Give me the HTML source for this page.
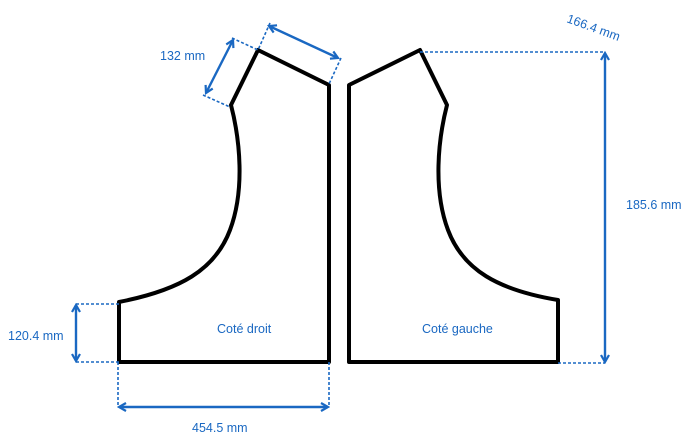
<!DOCTYPE html>
<html><head><style>body{margin:0;background:#fff}svg{display:block}</style></head><body>
<svg width="700" height="444" viewBox="0 0 700 444" xmlns="http://www.w3.org/2000/svg">
<defs>
<marker id="a" markerWidth="10" markerHeight="10" refX="8" refY="5" orient="auto-start-reverse" markerUnits="userSpaceOnUse"><path d="M1,1 L8,5 L1,9" fill="none" stroke="#1a68c2" stroke-width="2.2"/></marker>
</defs>
<g fill="none" stroke="#000" stroke-width="4" stroke-linejoin="round">
<path d="M258,50 L329,85 L329,362 L119,362 L119,302 C180,290 215,270 230,230 C245,190 240,140 231,105 Z"/>
<path d="M420,50 L349,85 L349,362 L558,362 L558,300 C498,290 463,270 448,230 C433,190 438,140 447,105 Z"/>
</g>
<g stroke="#1a68c2" stroke-width="1.6" stroke-dasharray="3,2" fill="none">
<line x1="232" y1="38" x2="258" y2="50"/><line x1="203" y1="95" x2="230" y2="107"/>
<line x1="270" y1="23" x2="258" y2="50"/><line x1="341" y1="58" x2="329" y2="84"/>
<line x1="420" y1="52" x2="605" y2="52"/><line x1="558" y1="363" x2="605" y2="363"/>
<line x1="76" y1="304" x2="119" y2="304"/><line x1="76" y1="362" x2="119" y2="362"/>
<line x1="118" y1="362" x2="118" y2="407"/><line x1="329" y1="362" x2="329" y2="407"/>
</g>
<g stroke="#1a68c2" stroke-width="2.4" fill="none" marker-start="url(#a)" marker-end="url(#a)">
<line x1="233" y1="40" x2="206" y2="93"/>
<line x1="269" y1="26" x2="338" y2="58"/>
<line x1="605" y1="53" x2="605" y2="362"/>
<line x1="76" y1="305" x2="76" y2="361"/>
<line x1="119" y1="407" x2="328" y2="407"/>
</g>
<g fill="#1a68c2" font-family="Liberation Sans, sans-serif" font-size="12.5">
<text x="160" y="60">132 mm</text>
<text x="566" y="22" transform="rotate(20 566 22)">166.4 mm</text>
<text x="626" y="209">185.6 mm</text>
<text x="8" y="340">120.4 mm</text>
<text x="192" y="432">454.5 mm</text>
<text x="217" y="333">Coté droit</text>
<text x="422" y="333">Coté gauche</text>
</g>
</svg>
</body></html>
